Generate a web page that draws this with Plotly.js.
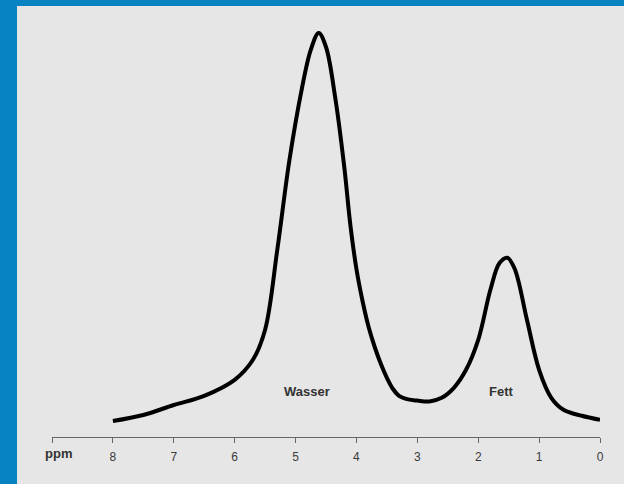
<!DOCTYPE html>
<html><head><meta charset="utf-8">
<script src="https://cdn.plot.ly/plotly-3.0.1.min.js"></script>
<style>
html,body{margin:0;padding:0;background:#0683c0;width:624px;height:484px;overflow:hidden;}
#chart{position:absolute;left:17px;top:6px;width:607px;height:478px;}
</style></head><body>
<div id="chart"></div>
<script>
// chemical shift (ppm) and signal intensity (arbitrary units)
var ppm = [8.0, 7.5, 7.0, 6.5, 6.0, 5.7, 5.5, 5.3, 5.1, 4.9, 4.75, 4.62, 4.5, 4.35, 4.2, 4.1, 4.0, 3.9, 3.8, 3.7, 3.6, 3.5, 3.4, 3.3, 3.15, 3.0, 2.8, 2.6, 2.4, 2.2, 2.0, 1.8, 1.65, 1.52, 1.4, 1.2, 1.0, 0.8, 0.6, 0.3, 0.0];
var intensity = [4.0, 5.5, 8.0, 10.3, 14.3, 19.3, 26.8, 46.8, 69.3, 86.8, 96.8, 101.0, 97.5, 85, 67.5, 53, 42, 34, 27.5, 22.5, 18.3, 14.8, 12, 10.3, 9.4, 9.1, 8.9, 9.8, 12.3, 16.8, 24.3, 36.8, 43.5, 44.8, 42, 29.3, 16.8, 9.8, 6.8, 5.3, 4.3];
var tickVals = [9, 8, 7, 6, 5, 4, 3, 2, 1, 0];
var tickText = ['', '8', '7', '6', '5', '4', '3', '2', '1', '0'];
var peakLabels = ['Wasser', 'Fett'];
var peakLabelX = [4.82, 1.61];
var peakLabelY = [11.5, 11.5];

var FONT = 'Liberation Sans, Arial, sans-serif';
var trace = {
  x: ppm, y: intensity, type: 'scatter', mode: 'lines',
  line: {color: '#000', width: 4, shape: 'spline', smoothing: 1},
  hoverinfo: 'skip'
};
var annotations = peakLabels.map(function(t, i){
  return {x: peakLabelX[i], y: peakLabelY[i], xref: 'x', yref: 'y', text: '<b>' + t + '</b>',
    showarrow: false, font: {family: FONT, size: 13, color: '#333'}};
});
annotations.push({x: 8.9, y: 0, xref: 'x', yref: 'paper', yshift: -26, text: '<b>ppm</b>', showarrow: false,
  font: {family: FONT, size: 13, color: '#333'}});

var layout = {
  width: 607, height: 478,
  margin: {l: 35, r: 24, t: 11, b: 47},
  paper_bgcolor: '#e6e6e6', plot_bgcolor: '#e6e6e6',
  showlegend: false,
  xaxis: {range: [9, 0], tickvals: tickVals, ticktext: tickText, showgrid: false, zeroline: false,
    showline: true, linecolor: '#666', linewidth: 1, ticks: 'outside', ticklen: 5, tickcolor: '#666',
    ticklabelstandoff: 4,
    tickfont: {family: FONT, size: 12, color: '#3a3a3a'}},
  yaxis: {range: [0, 105], visible: false, showgrid: false, zeroline: false},
  annotations: annotations
};
Plotly.newPlot('chart', [trace], layout, {displayModeBar: false, staticPlot: true});
</script>
</body></html>
